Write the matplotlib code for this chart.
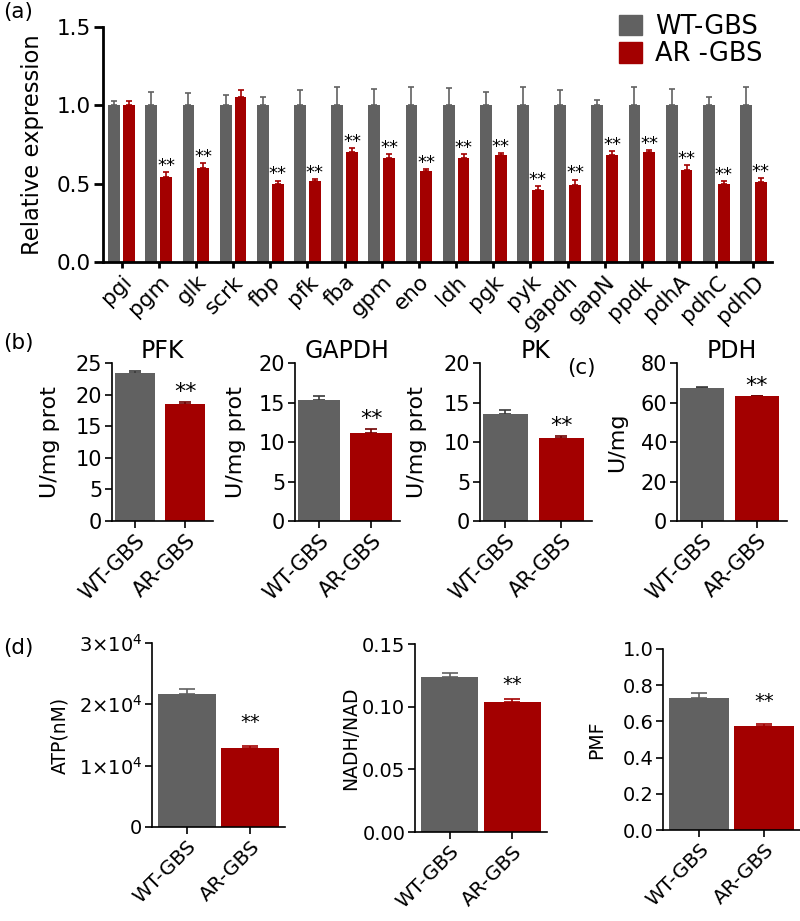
import matplotlib
matplotlib.use("Agg")
import matplotlib.pyplot as plt
from matplotlib.patches import Patch

plt.rcParams['font.family'] = ['DejaVu Sans']
plt.rcParams['mathtext.fontset'] = 'dejavusans'

GRAY = '#616161'
RED = '#a30000'

# panel (a) relative expression
genes = ['pgi', 'pgm', 'glk', 'scrk', 'fbp', 'pfk', 'fba', 'gpm', 'eno',
         'ldh', 'pgk', 'pyk', 'gapdh', 'gapN', 'ppdk', 'pdhA', 'pdhC', 'pdhD']
wt_expr = [1.0] * 18
wt_err = [0.03, 0.085, 0.08, 0.065, 0.053, 0.10, 0.12, 0.107, 0.12,
          0.11, 0.085, 0.12, 0.095, 0.034, 0.115, 0.105, 0.055, 0.12]
ar_expr = [1.0, 0.54, 0.60, 1.055, 0.495, 0.518, 0.70, 0.664, 0.58,
           0.665, 0.68, 0.457, 0.49, 0.68, 0.70, 0.59, 0.50, 0.51]
ar_err = [0.03, 0.032, 0.03, 0.045, 0.025, 0.012, 0.028, 0.026, 0.013,
          0.026, 0.013, 0.026, 0.036, 0.026, 0.013, 0.026, 0.015, 0.024]
ar_sig = [False, True, True, False] + [True] * 14

groups = ['WT-GBS', 'AR-GBS']

# panels (b), (c): enzyme activity
enz_names = ['PFK', 'GAPDH', 'PK', 'PDH']
enz_units = ['U/mg prot', 'U/mg prot', 'U/mg prot', 'U/mg']
enz_vals = [[23.4, 18.5], [15.35, 11.2], [13.6, 10.55], [67.5, 63.1]]
enz_errs = [[0.35, 0.4], [0.45, 0.4], [0.45, 0.15], [0.4, 0.3]]
enz_ymax = [25, 20, 20, 80]
enz_step = [5, 5, 5, 20]

# panel (d)
d_labels = ['ATP(nM)', 'NADH/NAD', 'PMF']
d_vals = [[21700, 12800], [0.1234, 0.1039], [0.729, 0.572]]
d_errs = [[750, 430], [0.0032, 0.0019], [0.027, 0.011]]
d_ticks = [[0, 10000, 20000, 30000], [0, 0.05, 0.10, 0.15],
           [0, 0.2, 0.4, 0.6, 0.8, 1.0]]
d_ticklabels = [['0', '1×10$^4$', '2×10$^4$', '3×10$^4$'],
                ['0.00', '0.05', '0.10', '0.15'],
                ['0.0', '0.2', '0.4', '0.6', '0.8', '1.0']]

W, H = 800, 921
fig = plt.figure(figsize=(W / 100, H / 100), dpi=100)


def px_axes(left, top, right, bottom):
    return fig.add_axes([left / W, 1 - bottom / H, (right - left) / W, (bottom - top) / H])


def style(ax, lw, tsize):
    for s in ['top', 'right']:
        ax.spines[s].set_visible(False)
    for s in ['left', 'bottom']:
        ax.spines[s].set_linewidth(lw)
    ax.tick_params(width=lw, length=5, labelsize=tsize, pad=2)


def up_err(ax, xs, ys, errs, color, cap):
    ax.errorbar(xs, ys, yerr=[[0] * len(xs), errs], fmt='none', ecolor=color,
                capsize=cap, elinewidth=1.2, capthick=1.2, zorder=1)


# ---- (a)
ax = px_axes(103, 27, 772, 262)
x = list(range(len(genes)))
bw = 0.32
xw = [i - 0.2 for i in x]
xa = [i + 0.2 for i in x]
up_err(ax, xw, wt_expr, wt_err, GRAY, 2.5)
up_err(ax, xa, ar_expr, ar_err, RED, 2.5)
ax.bar(xw, wt_expr, bw, color=GRAY, zorder=2)
ax.bar(xa, ar_expr, bw, color=RED, zorder=2)
for i in x:
    if ar_sig[i]:
        ax.annotate('**', (xa[i], ar_expr[i] + ar_err[i]), xytext=(0, -2),
                    textcoords='offset points', ha='center', va='bottom', fontsize=13)
ax.set_xlim(-0.5, 17.5)
ax.set_ylim(0, 1.5)
ax.set_yticks([0, 0.5, 1.0, 1.5])
ax.set_yticklabels(['0.0', '0.5', '1.0', '1.5'])
ax.set_xticks(x)
ax.set_xticklabels(genes, rotation=45, ha='right', rotation_mode='anchor')
style(ax, 2.0, 15.5)
ax.tick_params(axis='y', length=6.5)
ax.tick_params(axis='x', length=4, pad=3)
ax.set_ylabel('Relative expression', fontsize=16.3, labelpad=9)

fig.legend(handles=[Patch(color=GRAY, label='WT-GBS'), Patch(color=RED, label='AR -GBS')],
           loc='upper left', bbox_to_anchor=(619 / W, 1 - 14 / H), frameon=False,
           fontsize=18.5, handlelength=0.9, handleheight=0.85, handletextpad=0.5,
           labelspacing=0.05, borderpad=0, borderaxespad=0)

# ---- (b), (c)
b_rects = [(112, 213), (295, 400), (480, 592), (677, 787)]
b_pad = [11, 9, 12, 10]
for k in range(4):
    l, r = b_rects[k]
    ax = px_axes(l, 363, r, 521)
    up_err(ax, [0], [enz_vals[k][0]], [enz_errs[k][0]], '#3a3a3a', 4)
    up_err(ax, [1], [enz_vals[k][1]], [enz_errs[k][1]], '#700000', 4)
    ax.bar([0, 1], enz_vals[k], 0.8, color=[GRAY, RED], zorder=2)
    ax.annotate('**', (1, enz_vals[k][1] + enz_errs[k][1]), xytext=(0, 0),
                textcoords='offset points', ha='center', va='bottom', fontsize=16)
    ax.set_xlim(-0.45, 1.55)
    ax.set_ylim(0, enz_ymax[k])
    ax.set_yticks(range(0, enz_ymax[k] + 1, enz_step[k]))
    ax.set_xticks([0, 1])
    ax.set_xticklabels(groups, rotation=45, ha='right', rotation_mode='anchor')
    style(ax, 1.2, 15)
    ax.set_title(enz_names[k], fontsize=17, pad=2)
    ax.set_ylabel(enz_units[k], fontsize=16, labelpad=b_pad[k])

# ---- (d)
d_rects = [(152, 643, 285, 827), (415, 644, 547, 832), (663, 649, 800, 830)]
d_star = [10, 4, 10]
d_pad = [7, 1, 12]
for k in range(3):
    l, t, r, b = d_rects[k]
    ax = px_axes(l, t, r, b)
    up_err(ax, [0], [d_vals[k][0]], [d_errs[k][0]], GRAY, 6)
    up_err(ax, [1], [d_vals[k][1]], [d_errs[k][1]], RED, 6)
    ax.bar([0, 1], d_vals[k], 0.92, color=[GRAY, RED], zorder=2)
    ax.annotate('**', (1, d_vals[k][1] + d_errs[k][1]), xytext=(0, d_star[k]),
                textcoords='offset points', ha='center', va='bottom', fontsize=14)
    ax.set_xlim(-0.55, 1.55)
    ax.set_ylim(0, d_ticks[k][-1])
    ax.set_yticks(d_ticks[k])
    ax.set_yticklabels(d_ticklabels[k])
    ax.set_xticks([0, 1])
    ax.set_xticklabels(groups, rotation=45, ha='right', rotation_mode='anchor')
    style(ax, 1.2, 14)
    ax.tick_params(axis='x', labelsize=14.5)
    ax.set_ylabel(d_labels[k], fontsize=13.5, labelpad=d_pad[k])

fig.text(3 / W, 1 - 2 / H, '(a)', fontsize=15.5, va='top')
fig.text(3 / W, 1 - 333 / H, '(b)', fontsize=15.5, va='top')
fig.text(567 / W, 1 - 358 / H, '(c)', fontsize=15.5, va='top')
fig.text(3 / W, 1 - 638 / H, '(d)', fontsize=15.5, va='top')

fig.savefig('out.png', dpi=100)
